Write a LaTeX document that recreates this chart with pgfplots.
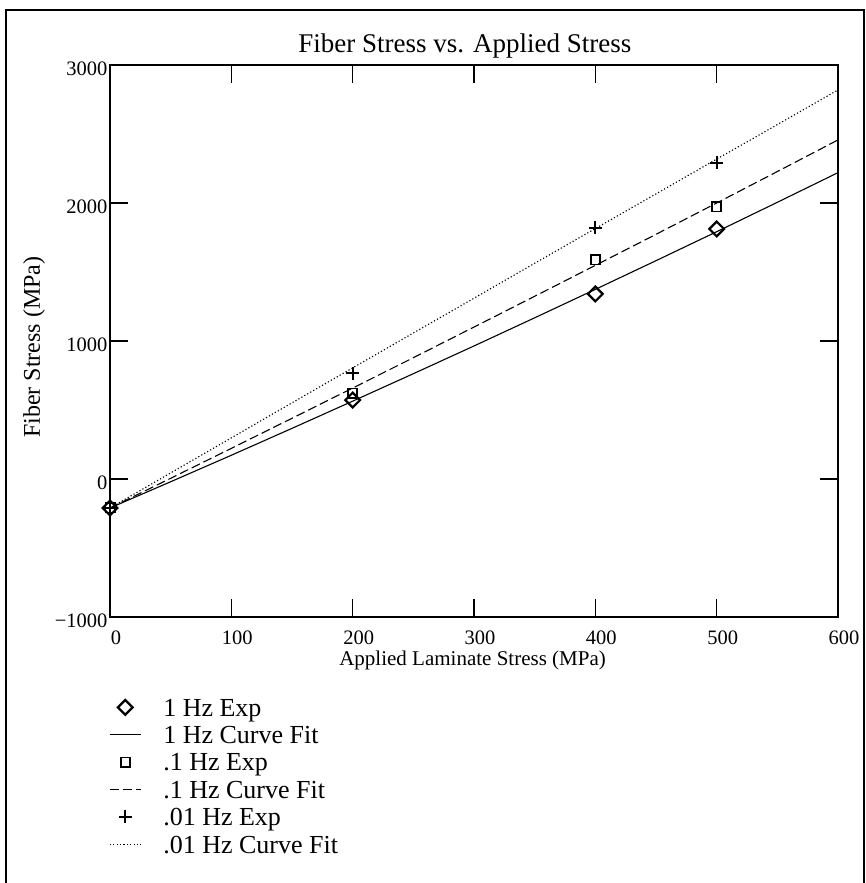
\documentclass[border=0pt]{standalone}
\usepackage{pgfplots}
\usepackage{pgfplotstable}
\pgfplotsset{compat=1.18}
\usepackage{fontspec}
\setmainfont{Liberation Serif}

% Measured fiber stress (MPa) against applied laminate stress (MPa)
\pgfplotstableread{
x y
0 -210
200 572
400 1341
500 1812
}\expOne
\pgfplotstableread{
x y
0 -210
200 623
400 1587
500 1971
}\expTenth
\pgfplotstableread{
x y
0 -210
200 768
400 1820
500 2290
}\expHundredth

% Fitted curves
\pgfplotstableread{
x y
0 -210
50 -20
100 172
150 367
200 564
250 763
300 964
350 1168
400 1374
450 1582
500 1792
550 2005
600 2220
}\fitOne
\pgfplotstableread{
x y
0 -210
50 5
100 222
150 440
200 659
250 879
300 1101
350 1324
400 1548
450 1773
500 2000
550 2228
600 2457
}\fitTenth
\pgfplotstableread{
x y
0 -210
50 44
100 298
150 552
200 805
250 1058
300 1310
350 1563
400 1815
450 2066
500 2318
550 2568
600 2819
}\fitHundredth

\begin{document}
\begin{tikzpicture}
\path[use as bounding box] (0pt,0pt) rectangle (866pt,883pt);
\draw[line width=1.5pt] (6pt,0pt) -- (6pt,873pt) -- (864pt,873pt) -- (864pt,0pt);
\begin{axis}[
  at={(110pt,266pt)}, anchor=south west,
  scale only axis, width=728pt, height=552pt,
  xmin=0, xmax=600, ymin=-1000, ymax=3000,
  xtick={0,100,200,300,400,500,600},
  xticklabels={0,100,200,300,400,500,600},
  ytick={-1000,0,1000,2000,3000},
  yticklabels={−1000,0,1000,2000,3000},
  tick align=inside,
  major tick length=18pt,
  tick style={line width=1.6pt, black},
  axis line style={line width=1.8pt},
  ticklabel style={font=\fontsize{20.5}{24}\selectfont},
  xticklabel style={xshift=6pt, yshift=-10pt},
  yticklabel style={yshift=-4pt, xshift=1pt},
  title={Fiber Stress vs. Applied Stress},
  title style={font=\fontsize{27}{31}\selectfont, at={(axis description cs:0.4876,1.0109)}, anchor=base},
  xlabel={Applied Laminate Stress (MPa)},
  xlabel style={font=\fontsize{21}{25}\selectfont, at={(axis description cs:0.498,-0.087)}, anchor=base},
  ylabel={Fiber Stress (MPa)},
  ylabel style={font=\fontsize{24}{28}\selectfont, at={(axis description cs:-0.1044,0.489)}, anchor=center, rotate=0},
  legend cell align=left,
  legend image code/.code={\draw[mark repeat=2,mark phase=2,#1] plot coordinates {(0pt,5pt) (15.5pt,5pt) (31pt,5pt)};},
  legend style={at={(axis description cs:-0.0014,-0.1476)}, anchor=north west, draw=none, fill=none,
    inner sep=0pt, row sep=0pt, column sep=22pt,
    font=\fontsize{26}{28}\selectfont,
    nodes={inner sep=0pt, text height=17.5pt, text depth=9.9pt}},
]
\addplot[only marks, mark=square, mark size=5.2pt, mark options={rotate=45, line width=2.2pt}] table {\expOne};
\addlegendentry{1 Hz Exp}
\addplot[black, line width=1.1pt] table {\fitOne};
\addlegendentry{1 Hz Curve Fit}
\addplot[only marks, mark=square, mark size=4.6pt, mark options={line width=1.8pt}] table {\expTenth};
\addlegendentry{.1 Hz Exp}
\addplot[black, line width=1.1pt, dash pattern=on 9pt off 4pt] table {\fitTenth};
\addlegendentry{.1 Hz Curve Fit}
\addplot[only marks, mark=+, mark size=6.5pt, mark options={line width=2.2pt}] table {\expHundredth};
\addlegendentry{.01 Hz Exp}
\addplot[black, line width=1.1pt, dash pattern=on 1.2pt off 2.2pt] table {\fitHundredth};
\addlegendentry{.01 Hz Curve Fit}
\end{axis}
\end{tikzpicture}
\end{document}
